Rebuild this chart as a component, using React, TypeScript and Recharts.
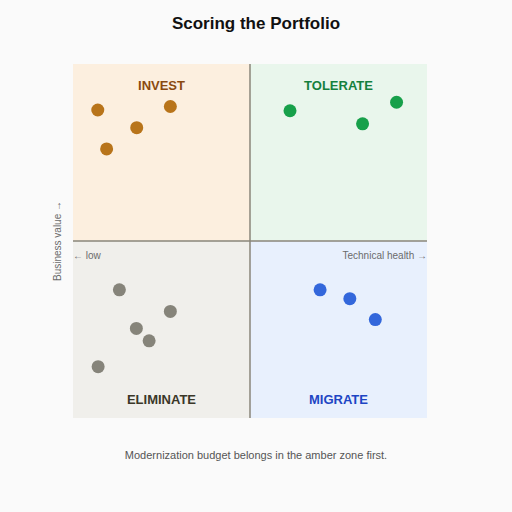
import {
    ScatterChart,
    Scatter,
    XAxis,
    YAxis,
    ReferenceArea,
    ReferenceLine,
} from "recharts"

type Pt = { x: number; y: number }

// scores on a 0..100 scale (technical health, business value)
const investX = [7, 27.5, 18, 9.5]
const investY = [87, 88, 82, 76]
const tolerateX = [61.3, 81.8, 91.4]
const tolerateY = [86.8, 83.1, 89.2]
const eliminateX = [13.1, 27.5, 17.9, 21.5, 7.1]
const eliminateY = [36.2, 30.1, 25.3, 21.8, 14.5]
const migrateX = [69.8, 78.2, 85.4]
const migrateY = [36.2, 33.7, 27.8]

const quadrantNames = ["INVEST", "TOLERATE", "ELIMINATE", "MIGRATE"]

const toPts = (xs: number[], ys: number[]): Pt[] => xs.map((x, i) => ({ x, y: ys[i] }))

const FONT = '"Liberation Sans", Arial, Helvetica, sans-serif'

const quadLabel = (text: string, color: string, top: boolean) => (props: any) => {
    const vb = props.viewBox
    if (!vb) return null
    return (
        <text
            x={vb.x + vb.width / 2}
            y={top ? vb.y + 26 : vb.y + vb.height - 14}
            textAnchor="middle"
            fill={color}
            fontSize={13}
            fontWeight={700}
            fontFamily={FONT}
        >
            {text}
        </text>
    )
}

const hintLabel = (props: any) => {
    const vb = props.viewBox
    if (!vb) return null
    return (
        <g fontSize={10} fill="#6b6b6b" fontFamily={FONT}>
            <text x={vb.x} y={vb.y + 17.5}>← low</text>
            <text x={vb.x + vb.width} y={vb.y + 17.5} textAnchor="end">
                Technical health →
            </text>
        </g>
    )
}

export default function App() {
    return (
        <div
            style={{
                position: "fixed",
                left: 0,
                top: 0,
                width: 512,
                height: 512,
                background: "#fafafa",
                fontFamily: FONT,
            }}
        >
            <div
                style={{
                    position: "absolute",
                    top: 14,
                    width: 512,
                    textAlign: "center",
                    fontSize: 17,
                    fontWeight: 700,
                    color: "#111",
                }}
            >
                Scoring the Portfolio
            </div>

            <ScatterChart
                width={512}
                height={512}
                margin={{ top: 64, left: 73, right: 85, bottom: 94 }}
                style={{ position: "absolute", left: 0, top: 0 }}
            >
                <XAxis type="number" dataKey="x" domain={[0, 100]} hide />
                <YAxis type="number" dataKey="y" domain={[0, 100]} hide />

                <ReferenceArea x1={0} x2={50} y1={50} y2={100} fill="#fcefdf" fillOpacity={1} stroke="none"
                               label={quadLabel(quadrantNames[0], "#8a4a10", true)} />
                <ReferenceArea x1={50} x2={100} y1={50} y2={100} fill="#e9f6ec" fillOpacity={1} stroke="none"
                               label={quadLabel(quadrantNames[1], "#15803d", true)} />
                <ReferenceArea x1={0} x2={50} y1={0} y2={50} fill="#f0efeb" fillOpacity={1} stroke="none"
                               label={quadLabel(quadrantNames[2], "#3b3728", false)} />
                <ReferenceArea x1={50} x2={100} y1={0} y2={50} fill="#e8f0fd" fillOpacity={1} stroke="none"
                               label={quadLabel(quadrantNames[3], "#1d45c4", false)} />

                <ReferenceLine x={50} stroke="#8a867a" strokeWidth={1.5} />
                <ReferenceLine y={50} stroke="#8a867a" strokeWidth={1.5} label={hintLabel} />

                <Scatter data={toPts(investX, investY)} fill="#b8741a" isAnimationActive={false}
                         shape={(p: any) => <circle cx={p.cx} cy={p.cy} r={6.5} fill="#b8741a" />} />
                <Scatter data={toPts(tolerateX, tolerateY)} fill="#17a04a" isAnimationActive={false}
                         shape={(p: any) => <circle cx={p.cx} cy={p.cy} r={6.5} fill="#17a04a" />} />
                <Scatter data={toPts(eliminateX, eliminateY)} fill="#86847a" isAnimationActive={false}
                         shape={(p: any) => <circle cx={p.cx} cy={p.cy} r={6.5} fill="#86847a" />} />
                <Scatter data={toPts(migrateX, migrateY)} fill="#3367db" isAnimationActive={false}
                         shape={(p: any) => <circle cx={p.cx} cy={p.cy} r={6.5} fill="#3367db" />} />
            </ScatterChart>

            <div
                style={{
                    position: "absolute",
                    left: 57,
                    top: 241,
                    transform: "translate(-50%, -50%) rotate(-90deg)",
                    fontSize: 10,
                    color: "#6b6b6b",
                    whiteSpace: "nowrap",
                }}
            >
                Business value →
            </div>

            <div
                style={{
                    position: "absolute",
                    top: 449,
                    width: 512,
                    textAlign: "center",
                    fontSize: 11,
                    color: "#555",
                }}
            >
                Modernization budget belongs in the amber zone first.
            </div>
        </div>
    )
}
